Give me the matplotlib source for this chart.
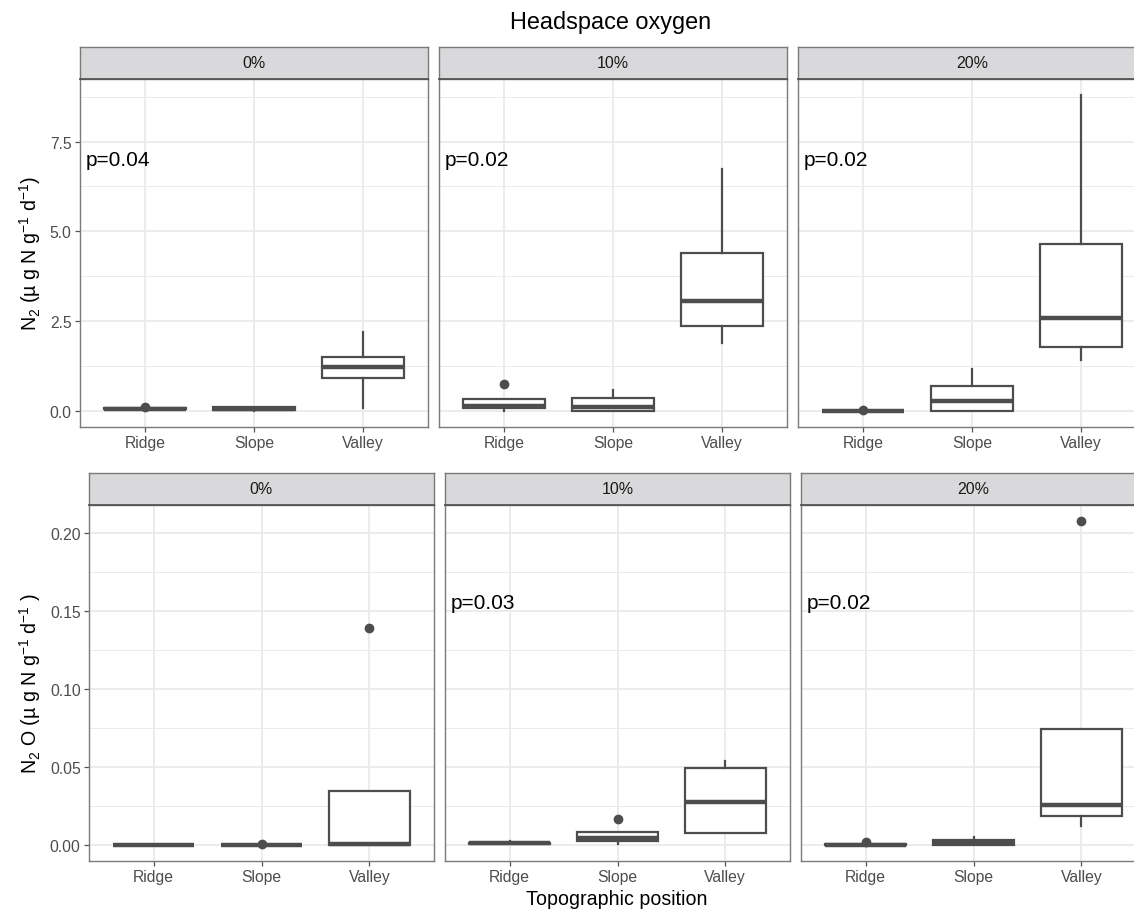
"""Boxplots of N2 and N2O production by topographic position, faceted by headspace oxygen."""
import matplotlib
matplotlib.use("Agg")
import matplotlib.pyplot as plt

plt.rcParams["font.family"] = ["Liberation Sans", "DejaVu Sans"]
plt.rcParams["mathtext.fontset"] = "custom"
plt.rcParams["mathtext.rm"] = "Liberation Sans"
plt.rcParams["mathtext.it"] = "Liberation Sans:italic"

CATEGORIES = ["Ridge", "Slope", "Valley"]
OXYGEN = ["0%", "10%", "20%"]

# box statistics, indexed [oxygen level][category]
N2_WHISLO = [[0.04, 0.00, 0.10], [0.01, 0.00, 1.91], [0.00, 0.00, 1.43]]
N2_Q1 = [[0.05, 0.02, 0.91], [0.09, 0.00, 2.36], [0.00, 0.00, 1.79]]
N2_MED = [[0.07, 0.06, 1.23], [0.15, 0.13, 3.06], [0.005, 0.29, 2.60]]
N2_Q3 = [[0.08, 0.11, 1.50], [0.35, 0.36, 4.40], [0.01, 0.71, 4.66]]
N2_WHISHI = [[0.09, 0.12, 2.19], [0.35, 0.59, 6.75], [0.01, 1.17, 8.79]]
N2_OUTLIERS = [[[0.13], [], []], [[0.76], [], []], [[0.03], [], []]]
N2_PVAL = ["p=0.04", "p=0.02", "p=0.02"]

N2O_WHISLO = [[0.0, 0.0, 0.0], [0.0004, 0.0006, 0.0075], [0.0, 0.0, 0.0123]]
N2O_Q1 = [[0.0, 0.0, 0.0], [0.0006, 0.0021, 0.0075], [0.0, 0.0, 0.0187]]
N2O_MED = [[0.0, 0.0, 0.0003], [0.0010, 0.0043, 0.0273], [0.0001, 0.0012, 0.0256]]
N2O_Q3 = [[0.0, 0.0, 0.0345], [0.0014, 0.0079, 0.0490], [0.0004, 0.0032, 0.0741]]
N2O_WHISHI = [[0.0, 0.0, 0.0345], [0.0024, 0.0079, 0.0539], [0.0004, 0.0049, 0.0741]]
N2O_OUTLIERS = [[[], [0.0003], [0.139]], [[], [0.0166], []], [[0.0017], [], [0.2075]]]
N2O_PVAL = ["", "p=0.03", "p=0.02"]

W, H = 1134, 912
BOXC = "#4D4D4D"
BORDER = "#7A7A7A"
GRID = "#EBEBEB"
TICKC = "#4D4D4D"


def px_axes(fig, x0, y0, x1, y1):
    """Axes from pixel box (top-left origin)."""
    return fig.add_axes([x0 / W, 1 - y1 / H, (x1 - x0) / W, (y1 - y0) / H])


def draw_row(fig, xs, y_top, y_bot, strip_h, stats, ylim, major, minor, yfmt, pvals, py, ylabel):
    whislo, q1, med, q3, whishi, outliers = stats
    for k, (x0, x1) in enumerate(xs):
        ax = px_axes(fig, x0, y_top, x1, y_bot)
        boxes = []
        for j, cat in enumerate(CATEGORIES):
            boxes.append({
                "label": cat,
                "whislo": whislo[k][j], "q1": q1[k][j], "med": med[k][j],
                "q3": q3[k][j], "whishi": whishi[k][j], "fliers": outliers[k][j],
            })
        ax.bxp(boxes, positions=[1, 2, 3], widths=0.75, patch_artist=True,
               showcaps=False,
               boxprops=dict(facecolor="white", edgecolor=BOXC, linewidth=1.6),
               medianprops=dict(color=BOXC, linewidth=3.2, solid_capstyle="butt"),
               whiskerprops=dict(color=BOXC, linewidth=1.6),
               flierprops=dict(marker="o", markerfacecolor=BOXC, markeredgecolor=BOXC,
                               markersize=6))
        ax.set_xlim(0.4, 3.6)
        ax.set_ylim(*ylim)
        ax.set_yticks(major)
        ax.set_yticks(minor, minor=True)
        ax.set_xticks([1, 2, 3])
        ax.set_xticklabels(CATEGORIES)
        ax.grid(True, which="major", color=GRID, linewidth=1.3)
        ax.grid(True, which="minor", axis="y", color=GRID, linewidth=0.7)
        ax.set_axisbelow(True)
        ax.tick_params(which="major", length=3.5, width=0.9, color="#555555",
                       labelsize=11.3, labelcolor=TICKC, pad=2.5)
        ax.tick_params(which="minor", length=0)
        for s in ax.spines.values():
            s.set_color(BORDER)
            s.set_linewidth(1.0)
        if k == 0:
            ax.set_yticklabels([yfmt.format(v) for v in major])
        else:
            ax.tick_params(axis="y", which="major", length=0, labelleft=False)
        if pvals[k]:
            ax.text(0.45, py, pvals[k], ha="left", va="center", fontsize=15, color="black")

        sx = px_axes(fig, x0, y_top - strip_h, x1, y_top)
        sx.set_facecolor("#D9D9DB")
        sx.set_xticks([])
        sx.set_yticks([])
        for s in sx.spines.values():
            s.set_color(BORDER)
            s.set_linewidth(1.0)
        sx.spines["bottom"].set_color("#555555")
        sx.spines["bottom"].set_linewidth(1.3)
        sx.text(0.5, 0.5, OXYGEN[k], ha="center", va="center", fontsize=11.5,
                color="#1A1A1A", transform=sx.transAxes)

    fig.text(30 / W, 1 - (y_top + y_bot) / 2 / H, ylabel, rotation=90,
             ha="center", va="center", fontsize=14.1)


fig = plt.figure(figsize=(W / 100, H / 100), dpi=100)

draw_row(fig, [(80, 428), (439, 787), (798, 1146)], 80, 428, 32,
         (N2_WHISLO, N2_Q1, N2_MED, N2_Q3, N2_WHISHI, N2_OUTLIERS),
         (-0.44, 9.24), [0, 2.5, 5.0, 7.5], [1.25, 3.75, 6.25, 8.75], "{:.1f}",
         N2_PVAL, 7.0, r"N$_2$ (µ g N g$^{-1}$ d$^{-1}$)")

draw_row(fig, [(89, 434), (445, 790), (801, 1146)], 506, 862, 32,
         (N2O_WHISLO, N2O_Q1, N2O_MED, N2O_Q3, N2O_WHISHI, N2O_OUTLIERS),
         (-0.0104, 0.2178), [0, 0.05, 0.10, 0.15, 0.20],
         [0.025, 0.075, 0.125, 0.175], "{:.2f}",
         N2O_PVAL, 0.155, r"N$_2$ O (µ g N g$^{-1}$ d$^{-1}$ )")

fig.text(611 / W, 1 - 23 / H, "Headspace oxygen", ha="center", va="center", fontsize=16.9)
fig.text(617 / W, 1 - 900 / H, "Topographic position", ha="center", va="center", fontsize=14.1)

fig.savefig("out.png", dpi=100)
